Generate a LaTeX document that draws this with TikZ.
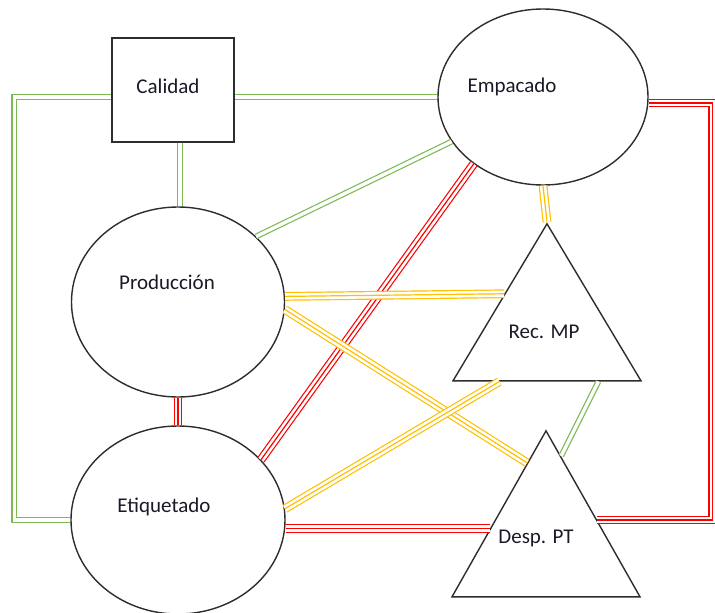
\documentclass[tikz,border=0pt]{standalone}
\usepackage{fontspec}
\setmainfont{Carlito}
\usetikzlibrary{shapes.geometric,calc}

\definecolor{lgreen}{RGB}{125,185,85}
\definecolor{lyellow}{RGB}{255,192,0}
\definecolor{lred}{RGB}{255,0,0}
\definecolor{outline}{RGB}{45,45,45}

\tikzset{every picture/.style={line width=1.4pt},
  area/.style={draw=outline, line width=1.4pt, inner sep=0pt},
  lbl/.style={inner sep=0.75pt, font=\fontsize{21}{25}\selectfont, text={rgb,255:red,25;green,25;blue,40}},
  twoline/.style={draw=#1, line width=1.2pt, double=white, double distance=3.4pt},
  threeline/.style={draw=#1, line width=1.2pt, preaction={preaction={draw=#1, line width=8.8pt}, draw=white, line width=6.4pt}},
}

\begin{document}
\begin{tikzpicture}[x=1pt,y=1pt,yscale=-1,xscale=1]
    \useasboundingbox (0,0) rectangle (715,613);

    %Shape: Rectangle
    \node[area, rectangle, minimum width=122pt, minimum height=104pt] (cal) at (173,90) {};
    %Shape: Ellipse
    \node[area, ellipse, minimum width=210pt, minimum height=176pt] (emp) at (543,97) {};
    %Shape: Ellipse
    \node[area, ellipse, minimum width=213pt, minimum height=190pt] (prod) at (178,302) {};
    %Shape: Ellipse
    \node[area, ellipse, minimum width=214pt, minimum height=188pt] (etiq) at (178,520) {};
    %Shape: Triangle
    \node[area, isosceles triangle, shape border rotate=90, isosceles triangle stretches, minimum width=188pt, minimum height=157pt, anchor=apex] (rec) at (547,222) {};
    %Shape: Triangle
    \node[area, isosceles triangle, shape border rotate=90, isosceles triangle stretches, minimum width=188pt, minimum height=166pt, anchor=apex] (desp) at (546,429) {};

    % points on the triangle sides
    \coordinate (recl) at ($(rec.apex)!0.45!(rec.left corner)$);
    \coordinate (recb1) at ($(rec.left corner)!0.25!(rec.right corner)$);
    \coordinate (recb2) at ($(rec.left corner)!0.77!(rec.right corner)$);
    \coordinate (despl1) at ($(desp.apex)!0.2!(desp.left corner)$);
    \coordinate (despl2) at ($(desp.apex)!0.59!(desp.left corner)$);
    \coordinate (despr1) at ($(desp.apex)!0.16!(desp.right corner)$);
    \coordinate (despr2) at ($(desp.apex)!0.54!(desp.right corner)$);

    %Straight Lines: green
    \draw[twoline=lgreen] (cal.east |- emp.west) -- (emp.west);
    \draw[twoline=lgreen] (cal.west |- emp.west) -- ++(-97,0) |- (etiq.west);
    \draw[twoline=lgreen] ([xshift=7pt]cal.south) -- ([xshift=7pt]cal.south |- prod.north);
    \draw[twoline=lgreen] (emp.206) -- (prod.40);
    \draw[twoline=lgreen] (recb2) -- (despr1);
    %Straight Lines: red
    \draw[threeline=lred] ([yshift=6pt]emp.east) -- ++(64,0) |- (despr2);
    \draw[threeline=lred] (emp.224) -- (etiq.36);
    \draw[threeline=lred] (prod.south) -- (etiq.north);
    \draw[threeline=lred] (etiq.east |- despl2) -- (despl2);
    %Straight Lines: yellow
    \draw[threeline=lyellow] (emp.south) -- (rec.apex);
    \draw[threeline=lyellow] (prod.3) -- (recl);
    \draw[threeline=lyellow] (prod.-4) -- (despl1);
    \draw[threeline=lyellow] (etiq.6) -- (recb1);

    % Text Node
    \node[lbl] (calt) at (168,86) {Calidad};
    % Text Node
    \node[lbl] (empt) at (512,87) {Empacado};
    % Text Node
    \node[lbl] (prodt) at (167,282) {Producción};
    % Text Node
    \node[lbl] (etiqt) at (164,507) {Etiquetado};
    % Text Node
    \node[lbl] (rect) at (544,332) {Rec. MP};
    % Text Node
    \node[lbl] (despt) at (536,538) {Desp. PT};

\end{tikzpicture}
\end{document}
